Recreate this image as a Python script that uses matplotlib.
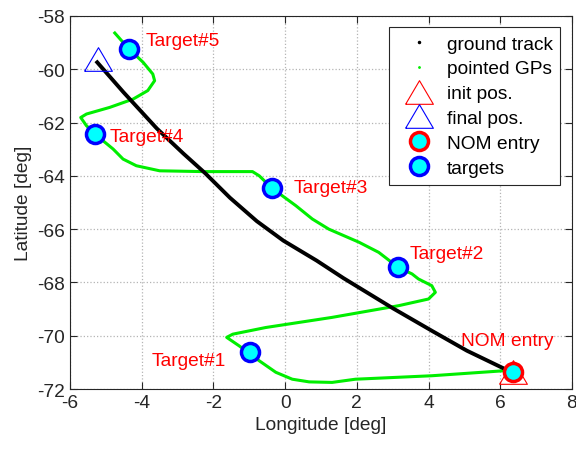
import numpy as np
import matplotlib
matplotlib.use('Agg')
import matplotlib.pyplot as plt
from matplotlib.lines import Line2D

plt.rcParams['font.family'] = ['Liberation Sans', 'DejaVu Sans']
plt.rcParams['axes.unicode_minus'] = False

# === ground track (lon, lat) ===
track_lon = [-5.24, -4.51, -3.58, -2.84, -2.23, -1.54, -0.79, -0.05, 0.88, 1.63, 3.02, 4.14, 5.07, 6.18]
track_lat = [-59.74, -60.86, -62.22, -63.16, -63.90, -64.82, -65.70, -66.43, -67.18, -67.84, -68.98, -69.85, -70.56, -71.28]

# === pointed ground points ===
gp_lon = [6.13, 4.09, 1.96, 1.31, 0.67, 0.20, -0.26, -0.72, -1.28, -1.63, -1.46, -0.54, 1.31, 3.17,
          4.00, 4.19, 4.09, 3.72, 3.54, 3.15, 2.61, 2.06, 1.22, 0.76, 0.30, -0.37, -0.72, -0.91,
          -2.30, -3.50, -4.15, -4.52, -4.80, -5.08, -5.29, -5.54, -5.70, -5.54, -4.89, -4.24,
          -3.83, -3.64, -3.69, -3.96, -4.35, -4.52, -4.75]
gp_lat = [-71.31, -71.50, -71.63, -71.75, -71.73, -71.63, -71.37, -70.94, -70.38, -70.06, -69.94,
          -69.69, -69.31, -68.87, -68.62, -68.37, -68.12, -67.87, -67.68, -67.43, -66.87, -66.49,
          -66.00, -65.62, -65.12, -64.46, -64.00, -63.84, -63.84, -63.81, -63.62, -63.37, -62.99,
          -62.68, -62.43, -62.12, -61.81, -61.68, -61.43, -61.12, -60.80, -60.43, -60.18, -59.74,
          -59.24, -58.99, -58.64]

init_pos = (6.36, -71.37)
final_pos = (-5.22, -59.62)
nom_entry = (6.36, -71.37)

target_lon = [-0.98, 3.15, -0.37, -5.29, -4.35]
target_lat = [-70.62, -67.43, -64.46, -62.43, -59.24]
target_names = ['Target#1', 'Target#2', 'Target#3', 'Target#4', 'Target#5']
label_lon = [-3.73, 3.47, 0.23, -4.89, -3.89]
label_lat = [-70.94, -66.91, -64.43, -62.54, -58.93]

# MATLAB-like flat triangle
tri = [(-1, -0.85), (1, -0.85), (0, 0.85), (-1, -0.85)]

fig = plt.figure(figsize=(5.76, 4.52), dpi=100)
ax = fig.add_axes([0.1215, 0.137, 0.8715, 0.8255])

ax.plot(track_lon, track_lat, '-', color='black', lw=2.8, zorder=3, solid_joinstyle='round')
ax.plot(gp_lon, gp_lat, '-', color='#00ee00', lw=2.2, zorder=2, solid_joinstyle='round')
ax.plot(*init_pos, marker=tri, ms=20, mfc='none', mec='red', mew=0.8, zorder=4)
ax.plot(*final_pos, marker=tri, ms=20, mfc='none', mec='blue', mew=0.8, zorder=4)
ax.plot(*nom_entry, 'o', ms=13, mfc='cyan', mec='red', mew=2.5, zorder=5)
ax.plot(target_lon, target_lat, 'o', ms=13, mfc='cyan', mec='blue', mew=2.5, linestyle='none', zorder=5)

for name, lx, ly in zip(target_names, label_lon, label_lat):
    ax.text(lx, ly, name, color='red', fontsize=13.8, va='center', ha='left')
ax.text(4.9, -70.19, 'NOM entry', color='red', fontsize=13.8, va='center', ha='left')

ax.set_xlim(-6, 8)
ax.set_ylim(-72, -58)
ax.set_xticks(np.arange(-6, 9, 2))
ax.set_yticks(np.arange(-72, -57, 2))
ax.grid(True, linestyle=':', color='#b4b4b4', lw=0.9)
ax.set_axisbelow(True)
ax.tick_params(direction='in', top=True, right=True, labelsize=13.8, colors='#262626', length=5)
for s in ax.spines.values():
    s.set_color('#262626')
ax.set_xlabel('Longitude [deg]', fontsize=13.8, color='#262626')
ax.set_ylabel('Latitude [deg]', fontsize=13.8, color='#262626')

handles = [
    Line2D([], [], ls='none', marker='.', ms=3, color='black'),
    Line2D([], [], ls='none', marker='.', ms=2, color='#00ee00'),
    Line2D([], [], ls='none', marker=tri, ms=20, mfc='none', mec='red', mew=0.8),
    Line2D([], [], ls='none', marker=tri, ms=20, mfc='none', mec='blue', mew=0.8),
    Line2D([], [], ls='none', marker='o', ms=13, mfc='cyan', mec='red', mew=2.5),
    Line2D([], [], ls='none', marker='o', ms=13, mfc='cyan', mec='blue', mew=2.5),
]
labels = ['ground track', 'pointed GPs', 'init pos.', 'final pos.', 'NOM entry', 'targets']
leg = ax.legend(handles, labels, loc='upper right', fontsize=13.8, fancybox=False, framealpha=1,
                edgecolor='#262626', labelspacing=0.39, handletextpad=0.3, borderaxespad=0.6,
                handlelength=2.3, borderpad=0.4)
leg.get_frame().set_linewidth(0.8)

fig.savefig('out.png', dpi=100)
